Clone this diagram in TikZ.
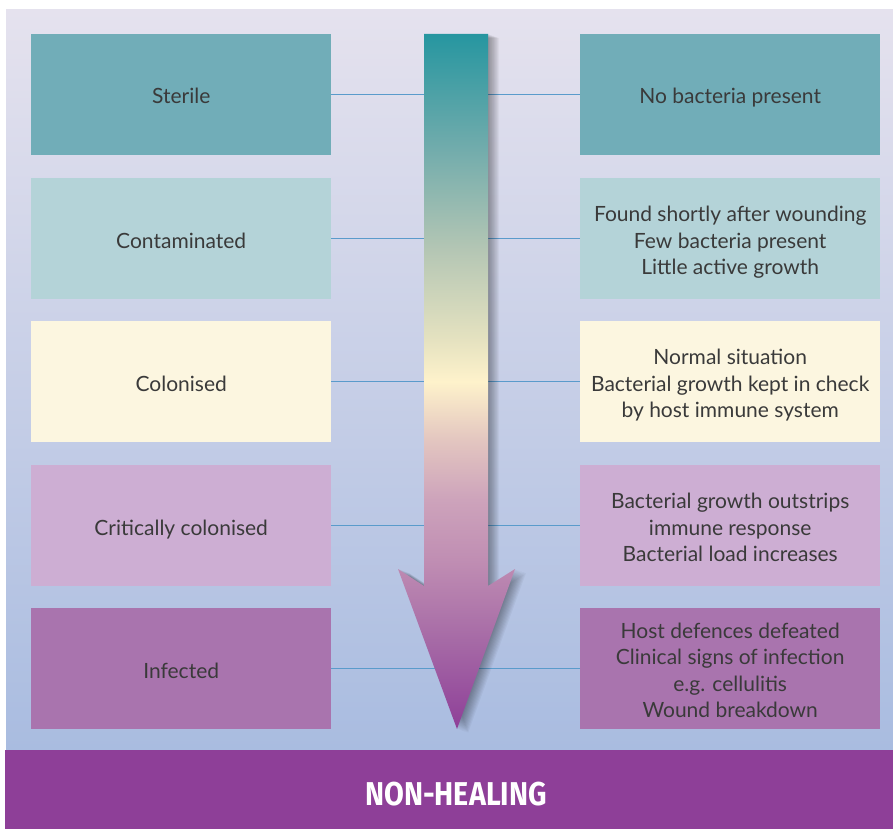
\documentclass[tikz,border=0pt]{standalone}
\usepackage{fontspec}
\setmainfont{Lato}
\newfontfamily\headfont[FakeStretch=0.87]{Fira Sans}
\newcommand{\boxtxt}[1]{\raisebox{-4pt}[\height][\depth]{\begin{tabular}{@{}c@{}}#1\end{tabular}}}
\begin{document}
\begin{tikzpicture}[x=1pt,y=-1pt,
  box/.style={minimum width=300pt,minimum height=121pt,inner sep=0pt,anchor=north west,
    align=center,font=\fontsize{21}{26.5}\selectfont,text=txt},
  link/.style={draw=linkc,line width=0.8pt}]
\definecolor{txt}{HTML}{3A3A3A}
\definecolor{linkc}{HTML}{5A9BCB}
\definecolor{cA}{HTML}{71ADB8}
\definecolor{cB}{HTML}{B4D3D8}
\definecolor{cC}{HTML}{FCF6E0}
\definecolor{cD}{HTML}{CDAED3}
\definecolor{cE}{HTML}{A974AE}
\definecolor{barc}{HTML}{8E3F98}
\definecolor{bgtop}{HTML}{E5E2EE}
\definecolor{bgbot}{HTML}{A9BCE0}
\pgfdeclareverticalshading{arrowshade}{100bp}{%
  color(0bp)=(barc);
  color(25bp)=(barc);
  color(31.4bp)=({rgb,255:red,166;green,106;blue,166});
  color(37.2bp)=({rgb,255:red,192;green,142;blue,179});
  color(41.5bp)=({rgb,255:red,205;green,163;blue,187});
  color(45.8bp)=({rgb,255:red,227;green,198;blue,192});
  color(50bp)=({rgb,255:red,254;green,242;blue,203});
  color(53bp)=({rgb,255:red,229;green,226;blue,192});
  color(59.5bp)=({rgb,255:red,180;green,198;blue,180});
  color(66.7bp)=({rgb,255:red,114;green,172;blue,172});
  color(75bp)=({rgb,255:red,38;green,150;blue,160});
  color(100bp)=({rgb,255:red,38;green,150;blue,160})}
\useasboundingbox (0,0) rectangle (893,829);
\fill[white] (0,0) rectangle (893,829);
% background panel
\shade[top color=bgtop,bottom color=bgbot] (6,10) rectangle (893,750);
% boxes
\node[box,fill=cA] (L1) at (31,34) {\boxtxt{Sterile}};
\node[box,fill=cB] (L2) at (31,178) {\boxtxt{Contaminated}};
\node[box,fill=cC] (L3) at (31,321) {\boxtxt{Colonised}};
\node[box,fill=cD] (L4) at (31,465) {\boxtxt{Critically colonised}};
\node[box,fill=cE] (L5) at (31,608) {\boxtxt{Infected}};
\node[box,fill=cA] (R1) at (580,34) {\boxtxt{No bacteria present}};
\node[box,fill=cB] (R2) at (580,178) {\boxtxt{Found shortly after wounding\\Few bacteria present\\Little active growth}};
\node[box,fill=cC] (R3) at (580,321) {\boxtxt{Normal situation\\Bacterial growth kept in check\\by host immune system}};
\node[box,fill=cD] (R4) at (580,465) {\boxtxt{Bacterial growth outstrips\\immune response\\Bacterial load increases}};
\node[box,fill=cE] (R5) at (580,608) {\boxtxt{Host defences defeated\\Clinical signs of infection\\e.g. cellulitis\\Wound breakdown}};
% connectors
\foreach \i in {1,...,5} \draw[link] (L\i.east) -- (R\i.west);
% arrow shadow
\foreach \s in {1,...,10}
  \fill[black,opacity=0.04,shift={(\s*1.1,\s*0.4)}]
    (424,34) -- (488,34) -- (488,586) -- (515,569) -- (457,729) -- (398,569) -- (424,586) -- cycle;
% arrow
\shade[shading=arrowshade]
  (424,34) -- (488,34) -- (488,586) -- (515,569) -- (457,729) -- (398,569) -- (424,586) -- cycle;
% bottom bar
\fill[barc] (5,750) rectangle (893,829);
\node[text=white,font=\headfont\bfseries\fontsize{33}{33}\selectfont,inner sep=0pt] (nh) at (456,794) {NON-HEALING};
\end{tikzpicture}
\end{document}
